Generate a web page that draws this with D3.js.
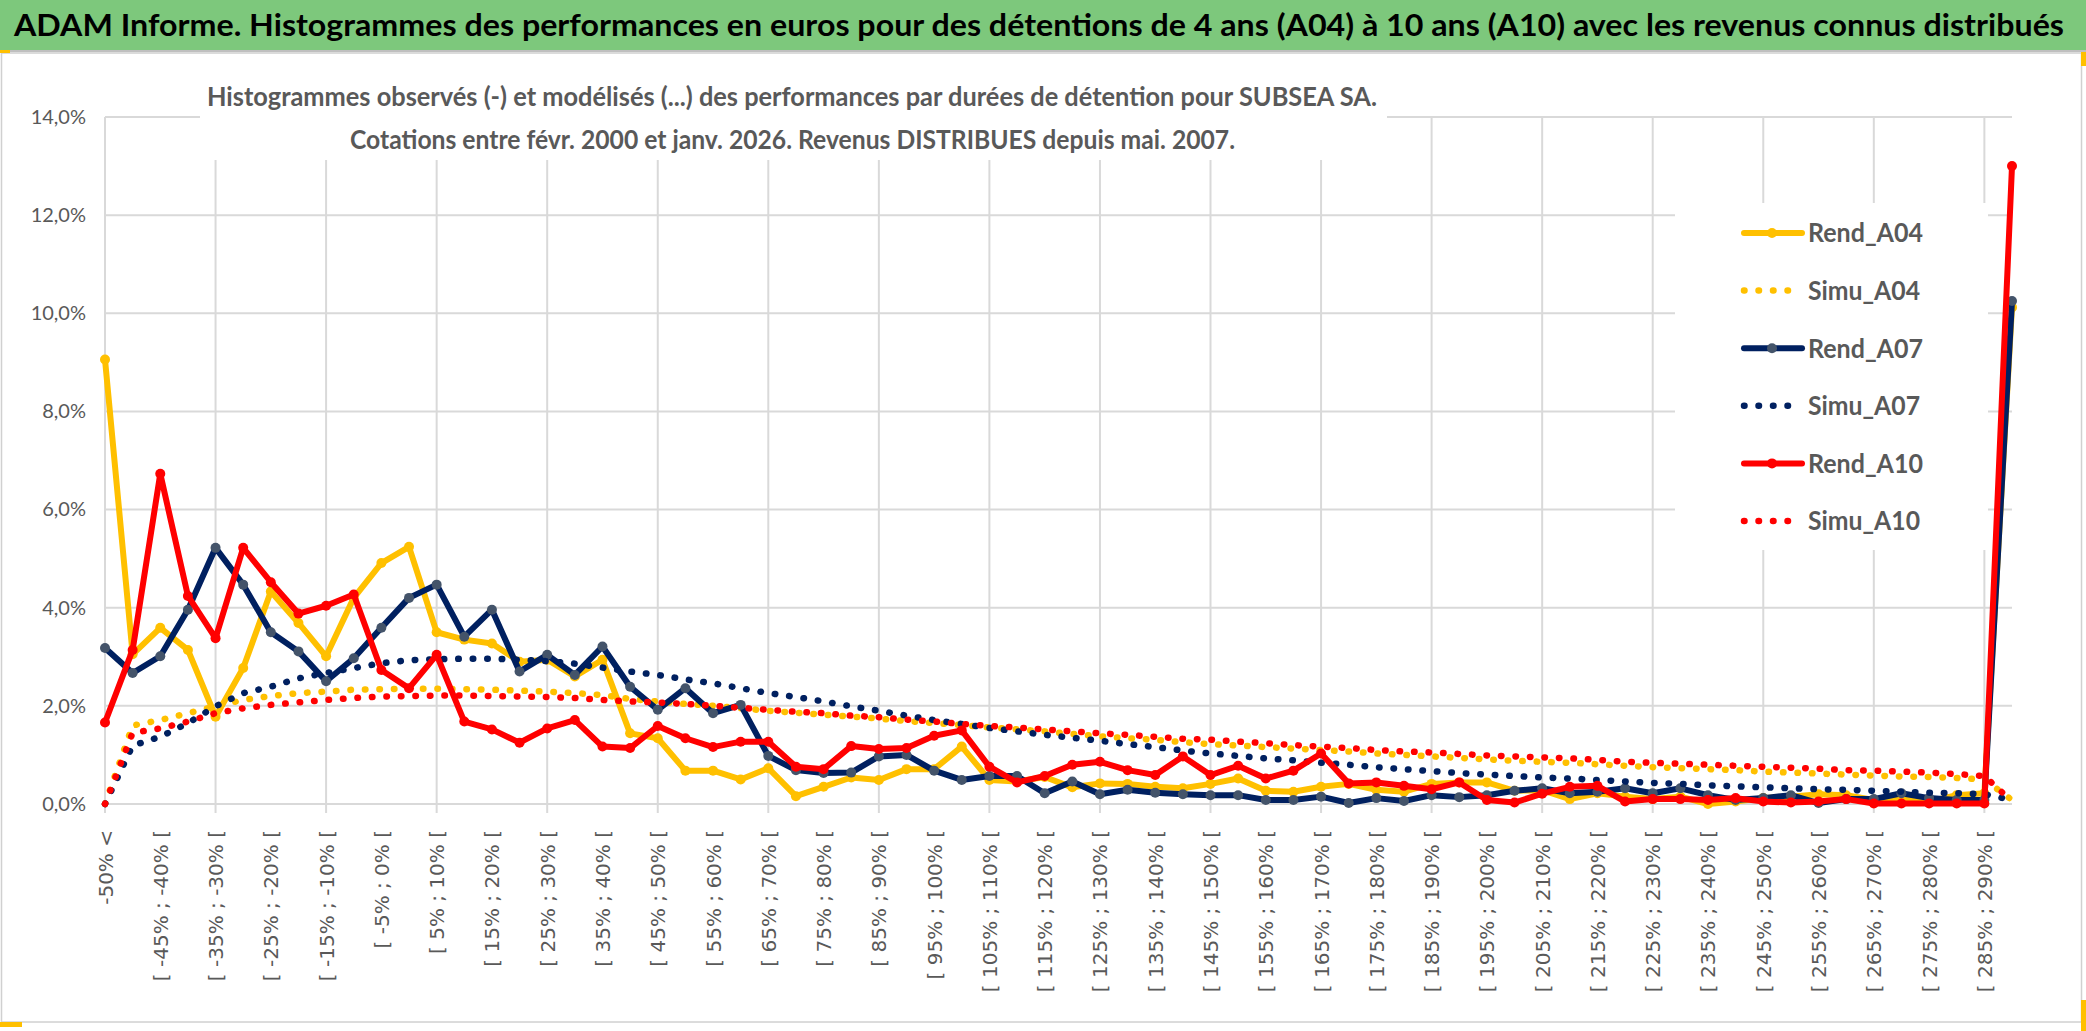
<!DOCTYPE html>
<meta charset="utf-8">
<script src="https://d3js.org/d3.v7.min.js"></script>
<style>
    body { margin: 0; background: #fff; }
    svg { display: block; }
</style>
<svg id="chart" width="2086" height="1031"></svg>
<script>
    // histogram bins (x axis)
    var categories = [
        '-50% <',
        '[ -50% ; -45% [', '[ -45% ; -40% [', '[ -40% ; -35% [', '[ -35% ; -30% [', '[ -30% ; -25% [',
        '[ -25% ; -20% [', '[ -20% ; -15% [', '[ -15% ; -10% [', '[ -10% ; -5% [', '[ -5% ; 0% [',
        '[ 0% ; 5% [', '[ 5% ; 10% [', '[ 10% ; 15% [', '[ 15% ; 20% [', '[ 20% ; 25% [',
        '[ 25% ; 30% [', '[ 30% ; 35% [', '[ 35% ; 40% [', '[ 40% ; 45% [', '[ 45% ; 50% [',
        '[ 50% ; 55% [', '[ 55% ; 60% [', '[ 60% ; 65% [', '[ 65% ; 70% [', '[ 70% ; 75% [',
        '[ 75% ; 80% [', '[ 80% ; 85% [', '[ 85% ; 90% [', '[ 90% ; 95% [', '[ 95% ; 100% [',
        '[ 100% ; 105% [', '[ 105% ; 110% [', '[ 110% ; 115% [', '[ 115% ; 120% [', '[ 120% ; 125% [',
        '[ 125% ; 130% [', '[ 130% ; 135% [', '[ 135% ; 140% [', '[ 140% ; 145% [', '[ 145% ; 150% [',
        '[ 150% ; 155% [', '[ 155% ; 160% [', '[ 160% ; 165% [', '[ 165% ; 170% [', '[ 170% ; 175% [',
        '[ 175% ; 180% [', '[ 180% ; 185% [', '[ 185% ; 190% [', '[ 190% ; 195% [', '[ 195% ; 200% [',
        '[ 200% ; 205% [', '[ 205% ; 210% [', '[ 210% ; 215% [', '[ 215% ; 220% [', '[ 220% ; 225% [',
        '[ 225% ; 230% [', '[ 230% ; 235% [', '[ 235% ; 240% [', '[ 240% ; 245% [', '[ 245% ; 250% [',
        '[ 250% ; 255% [', '[ 255% ; 260% [', '[ 260% ; 265% [', '[ 265% ; 270% [', '[ 270% ; 275% [',
        '[ 275% ; 280% [', '[ 280% ; 285% [', '[ 285% ; 290% [', '> 290%'
    ];

    // frequencies in %
    var rendA04 = [9.06, 3.05, 3.59, 3.14, 1.78, 2.77, 4.33, 3.69, 3.01, 4.20, 4.91, 5.24, 3.50, 3.35, 3.27, 2.90, 2.94,
        2.60, 2.94, 1.44, 1.34, 0.68, 0.68, 0.50, 0.73, 0.16, 0.35, 0.54, 0.49, 0.71, 0.71, 1.17, 0.49, 0.46,
        0.55, 0.34, 0.42, 0.41, 0.35, 0.32, 0.41, 0.52, 0.27, 0.25, 0.35, 0.41, 0.29, 0.25, 0.41, 0.44, 0.44, 0.27,
        0.28, 0.10, 0.22, 0.15, 0.10, 0.15, 0.00, 0.05, 0.12, 0.15, 0.20, 0.18, 0.08, 0.12, 0.05, 0.18, 0.22, 10.12];
    var simuA04 = [0.00, 1.60, 1.71, 1.85, 1.99, 2.12, 2.20, 2.26, 2.29, 2.33, 2.34, 2.35, 2.35, 2.34, 2.33, 2.31, 2.29,
        2.26, 2.22, 2.14, 2.09, 2.04, 2.00, 1.95, 1.90, 1.86, 1.82, 1.78, 1.74, 1.69, 1.65, 1.61, 1.56, 1.52,
        1.48, 1.43, 1.38, 1.34, 1.31, 1.26, 1.22, 1.19, 1.16, 1.13, 1.10, 1.07, 1.03, 1.00, 0.97, 0.94, 0.91, 0.88,
        0.86, 0.84, 0.81, 0.78, 0.75, 0.73, 0.71, 0.69, 0.66, 0.64, 0.62, 0.60, 0.58, 0.56, 0.55, 0.53, 0.50, 0.08];
    var rendA07 = [3.18, 2.67, 3.01, 3.96, 5.22, 4.47, 3.50, 3.11, 2.50, 2.97, 3.59, 4.20, 4.47, 3.41, 3.96, 2.70, 3.04,
        2.63, 3.21, 2.39, 1.92, 2.36, 1.85, 2.02, 0.98, 0.69, 0.63, 0.64, 0.97, 1.00, 0.68, 0.49, 0.57, 0.57,
        0.22, 0.46, 0.20, 0.29, 0.23, 0.20, 0.18, 0.18, 0.08, 0.08, 0.15, 0.02, 0.12, 0.06, 0.18, 0.14, 0.18, 0.27,
        0.32, 0.22, 0.25, 0.32, 0.22, 0.32, 0.18, 0.08, 0.12, 0.18, 0.02, 0.10, 0.10, 0.22, 0.12, 0.08, 0.08, 10.25];
    var simuA07 = [0.00, 1.19, 1.37, 1.65, 1.99, 2.26, 2.39, 2.56, 2.67, 2.77, 2.87, 2.93, 2.95, 2.96, 2.96, 2.94, 2.91,
        2.86, 2.78, 2.70, 2.63, 2.54, 2.46, 2.36, 2.26, 2.18, 2.09, 1.99, 1.90, 1.80, 1.71, 1.63, 1.55, 1.48,
        1.41, 1.35, 1.29, 1.22, 1.16, 1.09, 1.03, 0.98, 0.93, 0.89, 0.84, 0.80, 0.75, 0.71, 0.67, 0.63, 0.60, 0.57,
        0.54, 0.52, 0.49, 0.46, 0.43, 0.41, 0.38, 0.36, 0.34, 0.32, 0.30, 0.29, 0.27, 0.25, 0.23, 0.22, 0.20, 0.08];
    var rendA10 = [1.66, 3.14, 6.73, 4.24, 3.38, 5.22, 4.52, 3.88, 4.04, 4.27, 2.73, 2.36, 3.04, 1.68, 1.52, 1.25, 1.54,
        1.71, 1.17, 1.14, 1.59, 1.34, 1.16, 1.27, 1.27, 0.76, 0.71, 1.18, 1.12, 1.14, 1.39, 1.50, 0.76, 0.44,
        0.57, 0.80, 0.86, 0.69, 0.59, 0.97, 0.59, 0.78, 0.52, 0.68, 1.03, 0.42, 0.44, 0.37, 0.30, 0.44, 0.08, 0.03,
        0.21, 0.35, 0.37, 0.05, 0.10, 0.10, 0.08, 0.12, 0.05, 0.03, 0.05, 0.10, 0.01, 0.01, 0.01, 0.01, 0.01, 13.00];
    var simuA10 = [0.00, 1.45, 1.54, 1.68, 1.85, 1.95, 2.02, 2.07, 2.12, 2.16, 2.19, 2.20, 2.21, 2.21, 2.20, 2.19, 2.18,
        2.16, 2.12, 2.09, 2.07, 2.04, 2.00, 1.96, 1.92, 1.88, 1.85, 1.80, 1.77, 1.72, 1.68, 1.63, 1.59, 1.56,
        1.52, 1.48, 1.44, 1.41, 1.37, 1.33, 1.31, 1.27, 1.24, 1.20, 1.17, 1.14, 1.10, 1.07, 1.05, 1.02, 0.99, 0.97,
        0.95, 0.93, 0.90, 0.86, 0.84, 0.82, 0.80, 0.78, 0.76, 0.74, 0.72, 0.69, 0.68, 0.66, 0.64, 0.61, 0.57, 0.05];

    var yTicks = [0, 2, 4, 6, 8, 10, 12, 14];

    var seriesNames = ['Rend_A04', 'Simu_A04', 'Rend_A07', 'Simu_A07', 'Rend_A10', 'Simu_A10'];
    var seriesValues = [rendA04, simuA04, rendA07, simuA07, rendA10, simuA10];

    var mainTitle = 'ADAM Informe. Histogrammes des performances en euros pour des détentions de 4 ans (A04) à 10 ans (A10) avec les revenus connus distribués';
    var subTitle = [
        'Histogrammes observés (-) et modélisés (...) des performances par durées de détention pour SUBSEA SA.',
        'Cotations entre févr. 2000 et janv. 2026. Revenus DISTRIBUES depuis mai. 2007.'
    ];

    // styles per series
    var styles = {
        'Rend_A04': { color: '#FFC000', marker: '#FFC000', dotted: false },
        'Simu_A04': { color: '#FFC000', dotted: true },
        'Rend_A07': { color: '#002060', marker: '#44546A', dotted: false },
        'Simu_A07': { color: '#002060', dotted: true },
        'Rend_A10': { color: '#FF0000', marker: '#FF0000', dotted: false },
        'Simu_A10': { color: '#FF0000', dotted: true }
    };

    var plot = { left: 105, right: 2012, top: 117, bottom: 804 };
    var grey = '#595959';
    var gridColor = '#d9d9d9';
    var dotDash = '0.5,14';

    var svg = d3.select('#chart');

    // Calibri is narrower than Lato: squeeze the glyphs to the measured width
    function squeeze(text, w) {
        text.attr('textLength', w).attr('lengthAdjust', 'spacingAndGlyphs');
        return text;
    }

    // banner
    svg.append('rect')
        .attr('x', 0).attr('y', 0).attr('width', 2086).attr('height', 50)
        .attr('fill', '#7dc87c');
    svg.append('line')
        .attr('x1', 0).attr('x2', 2086).attr('y1', 51).attr('y2', 51)
        .attr('stroke', '#bfbfbf').attr('stroke-width', 2);
    var t = svg.append('text')
        .attr('x', 14).attr('y', 36)
        .attr('font-family', 'Lato, sans-serif')
        .attr('font-weight', 700)
        .attr('font-size', 31)
        .attr('fill', '#000')
        .text(mainTitle);
    squeeze(t, 2050);

    // chart area frame
    svg.append('rect')
        .attr('x', 1.5).attr('y', 53).attr('width', 2080).attr('height', 969)
        .attr('fill', '#fff').attr('stroke', '#d0d0d0').attr('stroke-width', 1.5);
    // selection handles
    svg.append('rect').attr('x', 0).attr('y', 1022).attr('width', 22).attr('height', 5).attr('fill', '#FFC000');
    svg.append('rect').attr('x', 2081).attr('y', 1000).attr('width', 5).attr('height', 31).attr('fill', '#FFC000');
    svg.append('rect').attr('x', 2081).attr('y', 52).attr('width', 5).attr('height', 14).attr('fill', '#FFC000');
    svg.append('rect').attr('x', 0).attr('y', 50).attr('width', 10).attr('height', 3).attr('fill', '#FFC000');

    var x = d3.scalePoint()
        .domain(categories)
        .range([plot.left, plot.right]);
    var y = d3.scaleLinear()
        .domain([0, 14])
        .range([plot.bottom, plot.top]);

    // gridlines
    svg.append('g')
        .selectAll('line')
        .data(yTicks)
        .enter()
        .append('line')
        .attr('x1', plot.left).attr('x2', plot.right)
        .attr('y1', function(d) { return y(d); })
        .attr('y2', function(d) { return y(d); })
        .attr('stroke', gridColor).attr('stroke-width', 2);

    svg.append('g')
        .selectAll('line')
        .data(categories.filter(function(d, i) { return i % 4 === 0; }))
        .enter()
        .append('line')
        .attr('x1', function(d) { return x(d); })
        .attr('x2', function(d) { return x(d); })
        .attr('y1', plot.top).attr('y2', plot.bottom + 9)
        .attr('stroke', gridColor).attr('stroke-width', 2);

    // y axis labels
    var locale = d3.formatLocale({ decimal: ',', thousands: ' ', grouping: [3], currency: ['', ' €'] });
    var f1 = locale.format('.1f');
    var yAxis = d3.axisLeft(y)
        .tickValues(yTicks)
        .tickSize(0)
        .tickPadding(19)
        .tickFormat(function(d) { return f1(d) + '%'; });
    var gy = svg.append('g')
        .attr('transform', 'translate(' + plot.left + ',0)')
        .call(yAxis);
    gy.select('.domain').remove();
    gy.selectAll('text')
        .attr('font-family', 'Lato, sans-serif')
        .attr('font-size', 20)
        .attr('fill', grey);

    // x axis labels, every 2nd bin
    var xAxis = d3.axisBottom(x)
        .tickValues(categories.filter(function(d, i) { return i % 2 === 0; }))
        .tickSize(0);
    var gx = svg.append('g')
        .attr('transform', 'translate(0,' + plot.bottom + ')')
        .call(xAxis);
    gx.select('.domain').remove();
    gx.selectAll('text')
        .attr('transform', 'rotate(-90)')
        .attr('x', -26)
        .attr('y', 0)
        .attr('dy', '0.35em')
        .attr('text-anchor', 'end')
        .attr('font-family', 'DejaVu Sans, sans-serif')
        .attr('font-size', 20)
        .attr('fill', grey);

    // title box over the gridlines
    svg.append('rect')
        .attr('x', 200).attr('y', 60).attr('width', 1187).attr('height', 100)
        .attr('fill', '#fff');
    svg.selectAll('text.sub')
        .data(subTitle)
        .enter()
        .append('text')
        .classed('sub', true)
        .attr('x', function(d, i) { return i === 0 ? 207 : 350; })
        .attr('y', function(d, i) { return 106 + i * 43; })
        .attr('font-family', 'Lato, sans-serif')
        .attr('font-weight', 700)
        .attr('font-size', 27)
        .attr('fill', grey)
        .attr('textLength', function(d, i) { return i === 0 ? 1170 : 885; })
        .attr('lengthAdjust', 'spacingAndGlyphs')
        .text(function(d) { return d; });

    // series
    var line = d3.line()
        .x(function(d, i) { return x(categories[i]); })
        .y(function(d) { return y(d); });

    seriesNames.forEach(function(name, k) {
        var st = styles[name];
        var path = svg.append('path')
            .datum(seriesValues[k])
            .attr('d', line)
            .attr('fill', 'none')
            .attr('stroke', st.color)
            .attr('stroke-linejoin', 'round');
        if (st.dotted) {
            path.attr('stroke-width', 6.5)
                .attr('stroke-linecap', 'round')
                .attr('stroke-dasharray', dotDash);
        } else {
            path.attr('stroke-width', 6);
            svg.append('g')
                .selectAll('circle')
                .data(seriesValues[k])
                .enter()
                .append('circle')
                .attr('cx', function(d, i) { return x(categories[i]); })
                .attr('cy', function(d) { return y(d); })
                .attr('r', 5)
                .attr('fill', st.marker);
        }
    });

    // legend
    var legend = svg.append('g');
    legend.append('rect')
        .attr('x', 1675).attr('y', 203).attr('width', 313).attr('height', 347)
        .attr('fill', '#fff');
    var items = legend.selectAll('g.item')
        .data(seriesNames)
        .enter()
        .append('g')
        .classed('item', true)
        .attr('transform', function(d, i) { return 'translate(0,' + (233 + i * 57.6) + ')'; });
    items.append('line')
        .attr('x1', 1744)
        .attr('x2', function(d) { return styles[d].dotted ? 1792 : 1802; })
        .attr('stroke', function(d) { return styles[d].color; })
        .attr('stroke-width', function(d) { return styles[d].dotted ? 6.5 : 6; })
        .attr('stroke-linecap', 'round')
        .attr('stroke-dasharray', function(d) { return styles[d].dotted ? dotDash : null; });
    items.filter(function(d) { return !styles[d].dotted; })
        .append('circle')
        .attr('cx', 1772).attr('r', 5)
        .attr('fill', function(d) { return styles[d].marker; });
    items.append('text')
        .attr('x', 1808)
        .attr('dy', '0.36em')
        .attr('font-family', 'Lato, sans-serif')
        .attr('font-weight', 700)
        .attr('font-size', 26)
        .attr('fill', grey)
        .attr('textLength', function(d) { return d.indexOf('Rend') === 0 ? 115 : 112; })
        .attr('lengthAdjust', 'spacingAndGlyphs')
        .text(function(d) { return d; });
</script>
